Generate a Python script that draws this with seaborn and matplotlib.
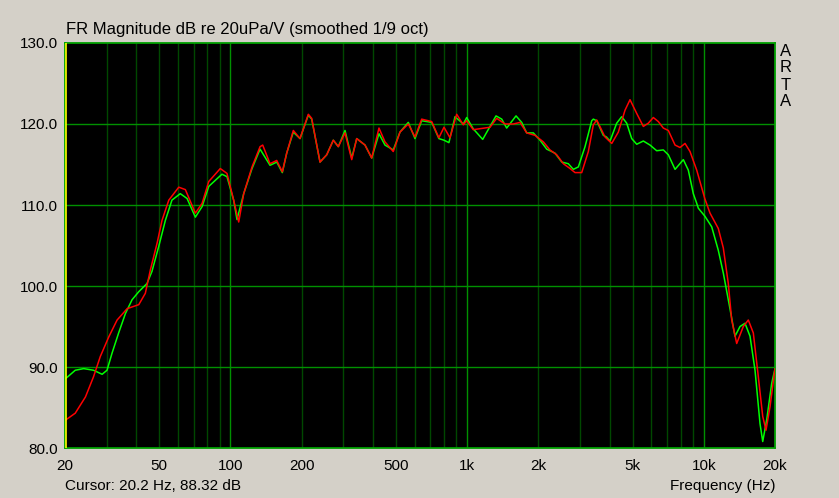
import numpy as np
import pandas as pd
import matplotlib
matplotlib.use("Agg")
import matplotlib.pyplot as plt
import seaborn as sns

# ---- data ----
red_freq = [20, 22.1, 24.4, 26.4, 28.2, 30.6, 33.2, 36.6, 41.0, 43.7, 45.9, 49.0, 51.4, 54.9,
            60.5, 64.5, 71.1, 75.9, 81.0, 90.6, 96.7, 103.2, 108.4, 113.8, 123.4, 133.4, 136.9,
            147.0, 156.9, 165.7, 172.9, 184.4, 196.8, 213.4, 220.5, 239.1, 255.2, 272.1, 285.7,
            304.9, 325.5, 341.7, 370.4, 395.3, 424.3, 449.8, 487.6, 520.5, 564.4, 602.4, 643.0,
            708.7, 760, 798.8, 846.8, 903.8, 963.8, 996.2, 1062, 1250, 1334, 1446, 1568, 1673,
            1786, 1936, 2099, 2240, 2392, 2551, 2723, 2858, 3050, 3253, 3415, 3530, 3826, 4085,
            4355, 4648, 4880, 5209, 5555, 5831, 6122, 6427, 6748, 7085, 7563, 7938, 8334, 8749,
            9339, 10100, 10627, 11521, 12096, 12698, 13125, 13778, 14693, 15426, 16197, 17004,
            17749, 18326, 19054, 20000]
red_db = [83.4, 84.3, 86.3, 88.8, 91.3, 93.7, 95.8, 97.2, 97.7, 99.1, 102.0, 105.3, 108.1, 110.6,
          112.2, 111.9, 109.0, 110.2, 112.9, 114.5, 113.9, 110.6, 107.9, 111.4, 114.7, 117.2, 117.4,
          115.1, 115.5, 114.1, 116.4, 119.2, 118.2, 121.2, 120.7, 115.3, 116.2, 118.0, 117.2,
          118.9, 115.6, 118.2, 117.4, 115.8, 119.5, 117.8, 116.6, 119.0, 120.0, 118.4, 120.6,
          120.3, 118.3, 119.6, 118.3, 121.2, 119.9, 120.4, 119.3, 119.6, 120.7, 120.0, 120.0, 120.2,
          118.9, 118.6, 117.8, 116.8, 116.2, 115.1, 114.5, 114.0, 114.0, 116.6, 119.9, 120.5, 118.4,
          117.6, 119.0, 121.7, 123.0, 121.3, 119.7, 120.1, 120.8, 120.3, 119.5, 119.2, 117.4, 117.1,
          117.6, 116.6, 114.3, 110.8, 109.0, 107.1, 104.7, 100.3, 95.8, 92.9, 95.0, 95.8, 94.2,
          88.8, 83.9, 82.2, 85.1, 89.8]

green_freq = [20, 22.1, 24.0, 26.4, 28.7, 30.1, 31.6, 33.7, 36.0, 38.4, 41.0, 44.4, 46.6, 49.8,
              53.1, 56.6, 61.4, 65.6, 71.1, 75.9, 81.0, 92.1, 96.7, 103.2, 106.6, 113.8, 123.4,
              133.4, 147.0, 156.9, 165.7, 172.9, 184.4, 196.8, 213.4, 220.5, 239.1, 255.2, 272.1,
              285.7, 304.9, 325.5, 341.7, 370.4, 395.3, 424.3, 449.8, 487.6, 520.5, 564.4, 602.4,
              643.0, 708.7, 760, 798.8, 838, 889, 963.8, 996.2, 1062, 1164, 1250, 1325, 1401, 1470,
              1610, 1701, 1786, 1905, 2033, 2170, 2352, 2512, 2677, 2811, 2952, 3150, 3362, 3415,
              3530, 3764, 3880, 4018, 4287, 4500, 4726, 4961, 5209, 5555, 5928, 6326, 6748, 7085,
              7563, 8199, 8606, 9034, 9339, 9486, 10121, 10806, 11521, 12096, 12698, 13553, 14228,
              14938, 15684, 16467, 17288, 17749, 18452, 19372, 20000]
green_db = [88.5, 89.6, 89.8, 89.6, 89.1, 89.6, 91.7, 94.2, 96.6, 98.3, 99.3, 100.3, 101.8, 104.9,
            108.1, 110.6, 111.4, 110.8, 108.5, 109.8, 112.3, 113.8, 113.5, 110.6, 108.2, 111.4, 114.5,
            116.9, 114.9, 115.3, 114.0, 116.4, 119.0, 118.2, 121.1, 120.6, 115.3, 116.2, 118.0,
            117.2, 119.2, 115.8, 118.2, 117.4, 115.8, 118.8, 117.4, 116.8, 119.0, 120.2, 118.2,
            120.4, 120.2, 118.2, 118.0, 117.7, 120.9, 120.0, 120.8, 119.4, 118.1, 119.7, 121.0, 120.6,
            119.5, 121.0, 120.2, 118.9, 118.9, 118.0, 116.9, 116.4, 115.3, 115.1, 114.4, 114.7, 117.2,
            120.4, 120.6, 120.4, 118.6, 118.4, 117.9, 120.1, 120.9, 120.1, 118.2, 117.5, 117.9, 117.4,
            116.7, 116.8, 116.2, 114.4, 115.6, 114.3, 111.4, 110.2, 109.6, 108.6, 107.3, 104.4,
            101.6, 98.3, 93.8, 95.0, 95.4, 93.8, 89.6, 83.0, 80.8, 83.5, 88.0, 89.8]

x_ticks = [20, 50, 100, 200, 500, 1000, 2000, 5000, 10000, 20000]
x_tick_labels = ["20", "50", "100", "200", "500", "1k", "2k", "5k", "10k", "20k"]
y_ticks = [80, 90, 100, 110, 120, 130]
y_tick_labels = ["80.0", "90.0", "100.0", "110.0", "120.0", "130.0"]

df = pd.concat([
    pd.DataFrame({"freq": green_freq, "db": green_db, "trace": "green"}),
    pd.DataFrame({"freq": red_freq, "db": red_db, "trace": "red"}),
], ignore_index=True)

# ---- styling ----
BG = "#D4D0C8"
sns.set_style("dark")
plt.rcParams["font.family"] = ["Liberation Sans", "DejaVu Sans"]

fig = plt.figure(figsize=(8.39, 4.98), dpi=100, facecolor=BG)
ax = fig.add_axes([65 / 839, 1 - 448 / 498, 710 / 839, 405 / 498])
ax.set_facecolor("black")

ax.set_xscale("log")
ax.set_xlim(20, 20000)
ax.set_ylim(80, 130)

# grid
minor = [f * d for d in (10, 100, 1000) for f in range(2, 10) if 20 < f * d < 20000]
for m in minor:
    ax.axvline(m, color="#004800", lw=1, zorder=1)
for M in (100, 1000, 10000):
    ax.axvline(M, color="#009000", lw=1, zorder=1)
for h in (90, 100, 110, 120):
    ax.axhline(h, color="#009000", lw=1, zorder=1)

sns.lineplot(data=df, x="freq", y="db", hue="trace", hue_order=["green", "red"],
             palette={"green": "#00FF00", "red": "#FF0000"}, sort=False,
             estimator=None, linewidth=1.1, legend=False, ax=ax, zorder=3)

# cursor line
ax.axvline(20.2, color="#FFFF00", lw=1.2, zorder=4)

for s in ax.spines.values():
    s.set_color("#00A000")
    s.set_linewidth(1.3)

ax.set_xticks(x_ticks)
ax.set_xticklabels(x_tick_labels)
ax.xaxis.set_minor_locator(matplotlib.ticker.NullLocator())
ax.set_yticks(y_ticks)
ax.set_yticklabels(y_tick_labels)
ax.tick_params(axis="both", length=0, labelsize=11, colors="black")
ax.tick_params(axis="x", pad=8)
ax.tick_params(axis="y", pad=5)
ax.set_xlabel("")
ax.set_ylabel("")
ax.grid(False)

fig.text(66 / 839, 1 - 29 / 498, "FR Magnitude dB re 20uPa/V (smoothed 1/9 oct)",
         ha="left", va="center", fontsize=12, color="black")
fig.text(65 / 839, 1 - 486 / 498, "Cursor: 20.2 Hz, 88.32 dB",
         ha="left", va="center", fontsize=11, color="black")
fig.text(775 / 839, 1 - 486 / 498, "Frequency (Hz)",
         ha="right", va="center", fontsize=11, color="black")
for i, ch in enumerate("ARTA"):
    fig.text(786 / 839, 1 - (51 + 17 * i) / 498, ch, ha="center", va="center",
             fontsize=12, color="black")

fig.savefig("out.png", dpi=100, facecolor=BG)
